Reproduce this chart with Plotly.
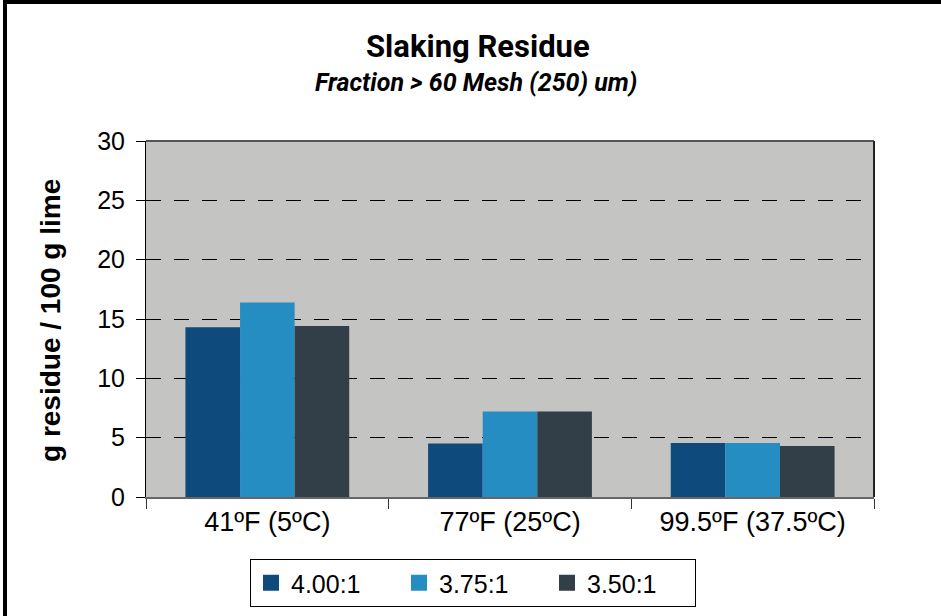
import plotly.graph_objects as go

categories = ["41ºF (5ºC)", "77ºF (25ºC)", "99.5ºF (37.5ºC)"]
series_names = ["4.00:1", "3.75:1", "3.50:1"]
series_values = {
    "4.00:1": [14.3, 4.5, 4.55],
    "3.75:1": [16.4, 7.2, 4.55],
    "3.50:1": [14.4, 7.2, 4.3],
}
colors = {"4.00:1": "#0F4A7C", "3.75:1": "#268DC3", "3.50:1": "#323E48"}
y_ticks = [0, 5, 10, 15, 20, 25, 30]

W, H = 941, 616
L, R, T, B = 146, 67, 141, 119
PW, PH = W - L - R, H - T - B


def px(x):
    return (x - L) / PW


def py(y):
    return (H - B - y) / PH


fig = go.Figure()
for name in series_names:
    fig.add_trace(go.Bar(
        x=categories, y=series_values[name], name=name,
        marker=dict(color=colors[name], line=dict(width=0)),
        showlegend=False,
    ))
for name in series_names:
    fig.add_trace(go.Scatter(
        x=[None], y=[None], mode="markers", name=name,
        marker=dict(symbol="square", size=16, color=colors[name], line=dict(width=0)),
        showlegend=True,
    ))

fig.update_layout(
    width=W, height=H,
    margin=dict(l=L, r=R, t=T, b=B, pad=0),
    paper_bgcolor="white", plot_bgcolor="#C4C4C2",
    barmode="group", bargap=0.325, bargroupgap=0,
    font=dict(family="Liberation Sans, Arial, sans-serif", color="black"),
    showlegend=True,
    legend=dict(
        orientation="h", xref="container", yref="container",
        x=473 / W, xanchor="center", y=1 - 559 / H, yanchor="top",
        bordercolor="black", borderwidth=1, bgcolor="white",
        font=dict(size=25, family="Liberation Sans, Arial, sans-serif"),
        itemsizing="trace", entrywidth=103,
    ),
)

fig.update_xaxes(
    showline=True, linecolor="#666666", linewidth=2,
    ticks="outside", tickson="boundaries", ticklen=10, tickcolor="#333333", tickwidth=1,
    tickfont=dict(size=27), showgrid=False,
)
fig.update_yaxes(
    range=[0, 30], tickvals=y_ticks, ticktext=[str(v) for v in y_ticks],
    showline=True, linecolor="black", linewidth=1,
    ticks="outside", ticklen=9, tickcolor="black", tickwidth=1,
    tickfont=dict(size=25), ticklabelstandoff=6,
    showgrid=True, gridcolor="black", gridwidth=1, griddash="15px,13px",
    zeroline=False,
)

# plot frame top and right
fig.add_shape(type="line", xref="paper", yref="paper", x0=0, x1=1, y0=1, y1=1,
              line=dict(color="#555555", width=2))
fig.add_shape(type="line", xref="paper", yref="paper", x0=1, x1=1, y0=0, y1=1,
              line=dict(color="#222222", width=2))
# outer image border (top & left)
fig.add_shape(type="line", xref="paper", yref="paper", x0=px(3), x1=px(W + 5), y0=py(2), y1=py(2),
              line=dict(color="black", width=4))
fig.add_shape(type="line", xref="paper", yref="paper", x0=px(5), x1=px(5), y0=py(0), y1=py(H + 5),
              line=dict(color="black", width=4))

fig.add_annotation(text="<b>Slaking Residue</b>", xref="paper", yref="paper",
                   x=px(478), y=py(46), xanchor="center", yanchor="middle", showarrow=False,
                   font=dict(family="Roboto, sans-serif", size=31, color="black"))
fig.add_annotation(text="<b><i>Fraction > 60 Mesh (250) um)</i></b>", xref="paper", yref="paper",
                   x=px(476), y=py(82), xanchor="center", yanchor="middle", showarrow=False,
                   font=dict(family="Roboto, sans-serif", size=25, color="black"))
fig.add_annotation(text="<b>g residue / 100 g lime</b>", xref="paper", yref="paper",
                   x=px(50), y=py(321), xanchor="center", yanchor="middle", showarrow=False,
                   textangle=-90,
                   font=dict(family="Liberation Sans, Arial, sans-serif", size=28, color="black"))

fig.write_html("out.html", config={"displayModeBar": False},
               post_script="document.body.style.margin='0';document.body.style.padding='0';")
